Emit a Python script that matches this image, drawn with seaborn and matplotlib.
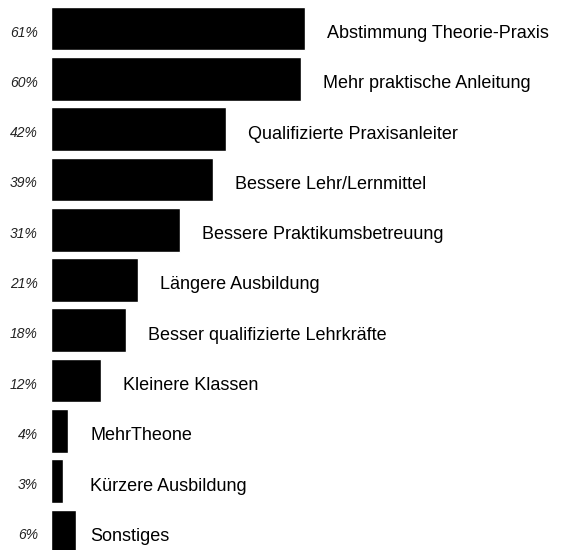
import matplotlib
matplotlib.use("Agg")
import matplotlib.pyplot as plt
import seaborn as sns
import pandas as pd

categories = [
    "Abstimmung Theorie-Praxis",
    "Mehr praktische Anleitung",
    "Qualifizierte Praxisanleiter",
    "Bessere Lehr/Lernmittel",
    "Bessere Praktikumsbetreuung",
    "Längere Ausbildung",
    "Besser qualifizierte Lehrkräfte",
    "Kleinere Klassen",
    "MehrTheone",
    "Kürzere Ausbildung",
    "Sonstiges",
]
values = [61, 60, 42, 39, 31, 21, 18, 12, 4, 3, 6]

df = pd.DataFrame({"Kategorie": categories, "Anteil": values})

sns.set_style("white")
plt.rcParams["font.family"] = ["Liberation Sans", "DejaVu Sans"]

fig = plt.figure(figsize=(5.69, 5.50), dpi=100)
ax = fig.add_axes([0, 0, 1, 1])
sns.barplot(data=df, x="Anteil", y="Kategorie", color="black",
            orient="h", width=0.87, saturation=1, ax=ax)

px = 4.16  # pixels per percent
for i, (cat, v) in enumerate(zip(categories, values)):
    ax.text(-13 / px, i + 0.05, f"{v}%", ha="right", va="center_baseline",
            fontsize=10, style="italic", color="#222222")
    # small bars share one label column
    xl = 39 / px if v < 10 else v + 22 / px
    ax.text(xl, i + 0.06, cat, ha="left", va="center_baseline", fontsize=13,
            color="black")

ax.set_xlim(-51 / px, (569 - 51) / px)
ax.set_ylim(10.37, -0.567)
ax.axis("off")
fig.savefig("out.png", dpi=100)
plt.close(fig)
